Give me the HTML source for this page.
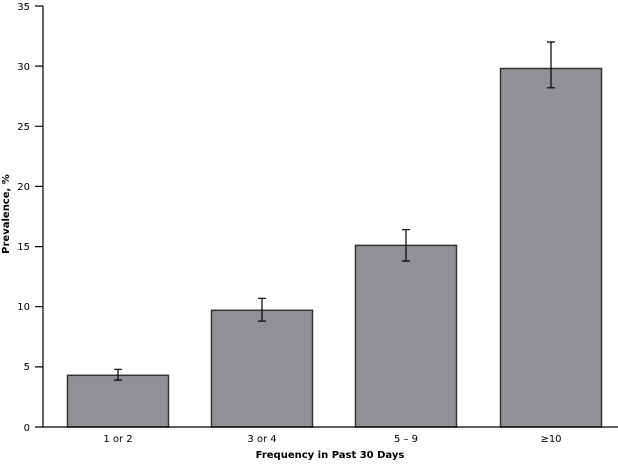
<!DOCTYPE html>
<html><head><style>body{margin:0;background:#fff}</style></head><body>
<svg width="618" height="462" xmlns="http://www.w3.org/2000/svg" font-family="Verdana, 'DejaVu Sans', sans-serif" font-size="10">
<g fill="#939196" stroke="#333" stroke-width="1.5">
<rect x="67.5" y="375.3" width="101" height="51.7"/>
<rect x="211.5" y="310.3" width="101" height="116.7"/>
<rect x="355.5" y="245.4" width="101" height="181.6"/>
<rect x="500.5" y="68.5" width="101" height="358.5"/>
</g>
<g stroke="#000" stroke-width="1.2" fill="none">
<path d="M118 369.3V380.1M114 369.3H122M114 380.1H122"/>
<path d="M262 298.3V321.1M258 298.3H266M258 321.1H266"/>
<path d="M406 229.7V261M402 229.7H410M402 261H410"/>
<path d="M551 42V87.8M547 42H555M547 87.8H555"/>
<path d="M43 6V427H618"/>
<path d="M35 6H43M35 66.1H43M35 126.3H43M35 186.4H43M35 246.6H43M35 306.7H43M35 366.9H43M35 427H43"/>
</g>
<g text-anchor="end" fill="#000">
<text x="30" y="10">35</text><text x="30" y="70">30</text><text x="30" y="130">25</text><text x="30" y="190">20</text><text x="30" y="250">15</text><text x="30" y="310">10</text><text x="30" y="370">5</text><text x="30" y="431">0</text>
</g>
<g text-anchor="middle" fill="#000">
<text x="118" y="442">1 or 2</text><text x="262" y="442">3 or 4</text><text x="406" y="442">5 – 9</text><text x="551" y="442">≥10</text>
<text x="330" y="458" font-weight="bold">Frequency in Past 30 Days</text>
<text transform="translate(9,214) rotate(-90)" font-weight="bold">Prevalence, %</text>
</g>
</svg>
</body></html>
